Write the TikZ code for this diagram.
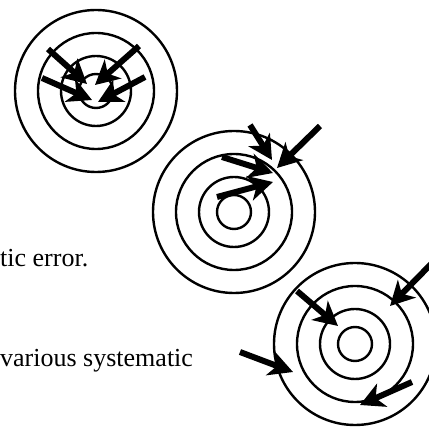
\documentclass[tikz,border=0pt]{standalone}
\usepackage{fontspec}
\setmainfont{Liberation Serif}
\usetikzlibrary{arrows.meta}
\tikzset{
  ring/.style={line width=2.4pt},
  hit/.style={line width=6pt,-{Stealth[length=24pt,width=25pt,inset=7pt]}},
  caption/.style={inner sep=0pt,anchor=base west,font=\fontsize{26}{30}\selectfont}
}
\begin{document}
\begin{tikzpicture}[x=1pt,y=-1pt]
        \useasboundingbox (0,0) rectangle (429,427);
        \clip (0,0) rectangle (429,427);

        \node [caption] (err) at (0,267) {tic error.};
        \node [caption] (sys) at (0,367) {various systematic};

        % tight group, off centre
        \begin{scope}[shift={(96,91)}]
            \coordinate (c1) at (0,0);
            \draw [ring] (c1) circle [radius=81pt];
            \draw [ring] (c1) circle [radius=58pt];
            \draw [ring] (c1) circle [radius=35pt];
            \draw [ring] (c1) circle [radius=17pt];
            \draw [hit] (-48,-42) -- (-9,-7);
            \draw [hit] (43,-45) -- (-1,-6);
            \draw [hit] (-54,-13) -- (-4,9);
            \draw [hit] (49,-14) -- (2,11);
        \end{scope}

        % tight group, shifted
        \begin{scope}[shift={(234,212)}]
            \coordinate (c2) at (0,0);
            \draw [ring] (c2) circle [radius=81pt];
            \draw [ring] (c2) circle [radius=58pt];
            \draw [ring] (c2) circle [radius=35pt];
            \draw [ring] (c2) circle [radius=17pt];
            \draw [hit] (16,-87) -- (38,-52);
            \draw [hit] (86,-86) -- (43,-44);
            \draw [hit] (-12,-55) -- (39,-39);
            \draw [hit] (-17,-15) -- (39,-30);
        \end{scope}

        % scattered
        \begin{scope}[shift={(355,344)}]
            \coordinate (c3) at (0,0);
            \draw [ring] (c3) circle [radius=81pt];
            \draw [ring] (c3) circle [radius=58pt];
            \draw [ring] (c3) circle [radius=35pt];
            \draw [ring] (c3) circle [radius=17pt];
            \draw [hit] (-58,-53) -- (-17,-18);
            \draw [hit] (79,-83) -- (35,-38);
            \draw [hit] (-115,8) -- (-62,28);
            \draw [hit] (57,38) -- (5,61);
        \end{scope}
\end{tikzpicture}
\end{document}
